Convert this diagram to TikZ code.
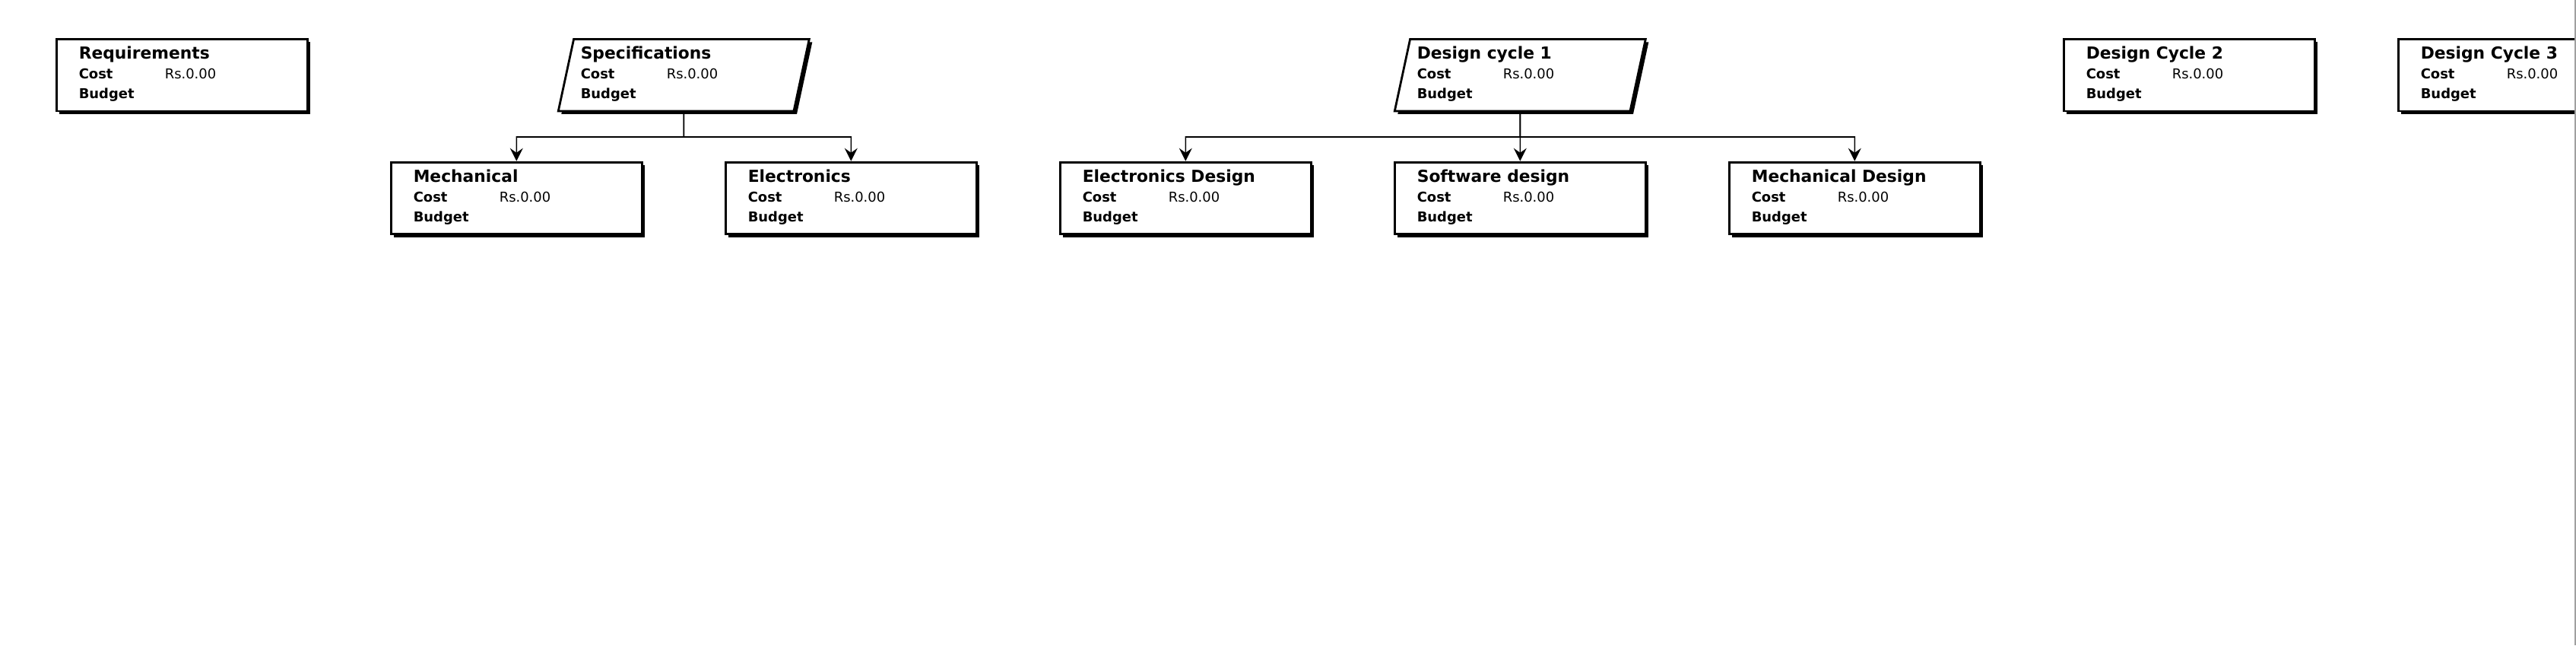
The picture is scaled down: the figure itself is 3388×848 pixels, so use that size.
\documentclass[tikz,border=0pt]{standalone}
\usepackage{fontspec}
\setmainfont{DejaVu Sans}
\usepackage{array}
\usetikzlibrary{arrows.meta,shapes.geometric,shadows}

\newcommand\costtable[1]{%
  \begin{tabular}{@{}p{22.6mm}@{}p{31.6mm}@{}}
    \multicolumn{2}{@{}l@{}}{\fontsize{12.4}{14.8}\selectfont\bfseries #1}\\
    \textbf{Cost} & Rs.0.00\\
    \textbf{Budget} &
  \end{tabular}}

\begin{document}
\begin{tikzpicture}[x=0.2mm,y=-0.2mm,>={Stealth[length=3.4mm,width=3.4mm,inset=1.2mm]},
  font=\fontsize{10.2}{14.8}\selectfont,
  task/.style={draw,line width=0.56mm,fill=white,minimum width=66mm,minimum height=18.9mm,inner sep=1mm,
    drop shadow={shadow xshift=0.8mm,shadow yshift=-0.8mm,opacity=1,fill=black}},
  phase/.style={task,trapezium,trapezium left angle=77,trapezium right angle=103,trapezium stretches body,inner xsep=0mm},
  link/.style={->,line width=0.32mm}]
\useasboundingbox (0,0) rectangle (3388,848);
% top row
\node[task]  (req)  at (239.3,98.7)  {\costtable{Requirements}};
\node[phase] (spec) at (899.3,98.7)  {\costtable{Specifications}};
\node[phase] (dc1)  at (1999.3,98.7) {\costtable{Design cycle 1}};
\node[task]  (dc2)  at (2879.3,98.7) {\costtable{Design Cycle 2}};
\node[task]  (dc3)  at (3319.3,98.7) {\costtable{Design Cycle 3}};
% second row
\node[task] (mech)    at (679.3,260.4)  {\costtable{Mechanical}};
\node[task] (elec)    at (1119.3,260.4) {\costtable{Electronics}};
\node[task] (elecdes) at (1559.3,260.4) {\costtable{Electronics Design}};
\node[task] (softdes) at (1999.3,260.4) {\costtable{Software design}};
\node[task] (mechdes) at (2439.3,260.4) {\costtable{Mechanical Design}};
% links
\coordinate (specbus) at (899.3,180);
\coordinate (dcbus)   at (1999.3,180);
\foreach \child in {mech,elec}
  \draw[link] (spec.south) -- (specbus) -| (\child.north);
\foreach \child in {elecdes,softdes,mechdes}
  \draw[link] (dc1.south) -- (dcbus) -| (\child.north);
\draw[gray!75,line width=0.4mm] (3387,0) -- (3387,848);
\end{tikzpicture}
\end{document}
